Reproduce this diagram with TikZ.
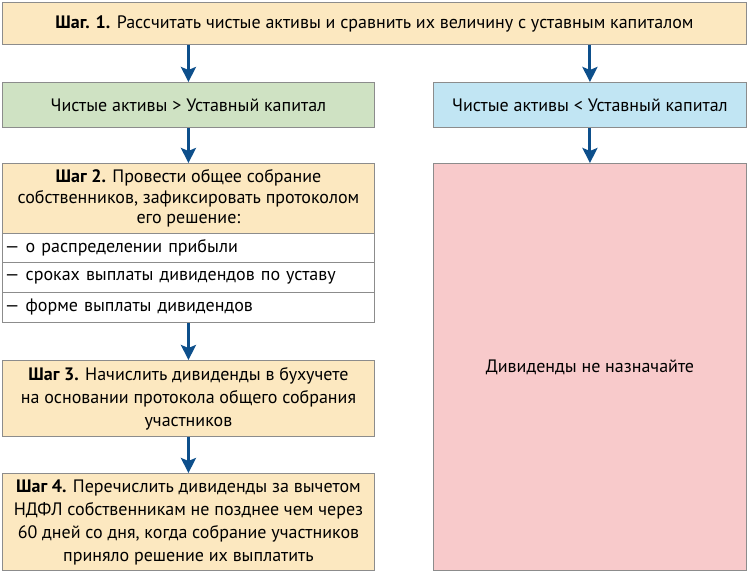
\documentclass[tikz,border=0pt]{standalone}
\usepackage{fontspec}
\setmainfont{PT Sans}
\usetikzlibrary{arrows.meta}
\definecolor{stepfill}{HTML}{FCE8C0}
\definecolor{gtfill}{HTML}{CFE2C3}
\definecolor{ltfill}{HTML}{C1E5F3}
\definecolor{nofill}{HTML}{F8CACB}
\definecolor{boxline}{HTML}{8C8C8C}
\definecolor{arrowblue}{HTML}{0D4F8B}

\begin{document}
\begin{tikzpicture}[x=1pt,y=-1pt,
  font=\fontsize{18}{23}\selectfont,
  box/.style={draw=boxline,line width=0.9pt,anchor=north west,inner sep=0pt,align=center},
  row/.style={draw=boxline,line width=0.9pt,fill=white,anchor=north west,inner sep=0pt,
    minimum width=372pt,minimum height=30pt,text width=367pt,align=left},
  flow/.style={arrowblue,line width=3pt,-{Stealth[length=15pt,width=15pt,inset=3pt]}}]
\useasboundingbox (0,0) rectangle (750,573);
% step 1
\node[box,fill=stepfill,minimum width=744pt,minimum height=42pt] (s1) at (2,2)
  {\textbf{Шаг. 1.} Рассчитать чистые активы и сравнить их величину с уставным капиталом};
% two cases
\node[box,fill=gtfill,minimum width=372pt,minimum height=45pt] (gt) at (2,82)
  {Чистые активы > Уставный капитал};
\node[box,fill=ltfill,minimum width=313pt,minimum height=45pt] (lt) at (433,82)
  {Чистые активы < Уставный капитал};
% left branch
\node[box,fill=stepfill,minimum width=372pt,minimum height=70pt,
  font=\fontsize{18}{20.5}\selectfont] (s2) at (2,163)
  {\textbf{Шаг 2.} Провести общее собрание\\собственников, зафиксировать протоколом\\его решение:};
\node[row,minimum height=29pt] (r1) at (2,233) {— о распределении прибыли};
\node[row] (r2) at (2,262) {— сроках выплаты дивидендов по уставу};
\node[row] (r3) at (2,292) {— форме выплаты дивидендов};
\node[box,fill=stepfill,minimum width=372pt,minimum height=76pt] (s3) at (2,360)
  {\textbf{Шаг 3.} Начислить дивиденды в бухучете\\на основании протокола общего собрания\\участников};
\node[box,fill=stepfill,minimum width=372pt,minimum height=97pt] (s4) at (2,473)
  {\textbf{Шаг 4.} Перечислить дивиденды за вычетом\\НДФЛ собственникам не позднее чем через\\60 дней со дня, когда собрание участников\\приняло решение их выплатить};
% right branch
\node[box,fill=nofill,minimum width=313pt,minimum height=407pt] (no) at (433,163)
  {Дивиденды не назначайте};
% arrows
\draw[flow] (gt.north |- s1.south) -- (gt.north);
\draw[flow] (lt.north |- s1.south) -- (lt.north);
\draw[flow] (gt.south) -- (s2.north);
\draw[flow] (r3.south) -- (s3.north);
\draw[flow] (s3.south) -- (s4.north);
\draw[flow] (lt.south) -- (no.north);
\end{tikzpicture}
\end{document}
